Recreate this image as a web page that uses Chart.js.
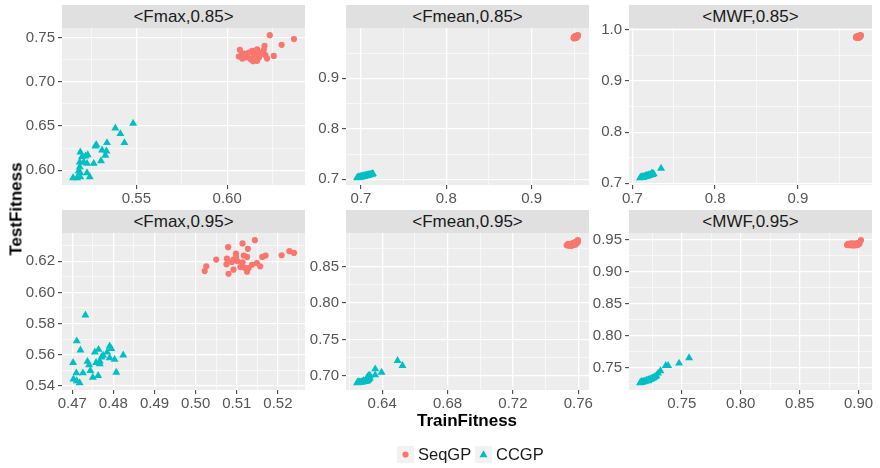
<!DOCTYPE html>
<html>
<head>
<meta charset="utf-8">
<script src="https://cdn.jsdelivr.net/npm/chart.js@4.4.1/dist/chart.umd.min.js"></script>
<style>
  html, body { margin: 0; padding: 0; background: #ffffff; }
  body { width: 880px; height: 468px; position: relative; overflow: hidden;
         font-family: "Liberation Sans", Arial, Helvetica, sans-serif; }
  .strip { position: absolute; background: #E0E0E0; color: #1A1A1A; font-size: 17px;
           text-align: center; height: 23px; line-height: 23px; white-space: nowrap; }
  canvas { position: absolute; }
  .title { position: absolute; font-weight: bold; font-size: 17px; line-height: 17px;
           color: #000000; white-space: nowrap; }
  .legend-key { position: absolute; width: 17px; height: 17px; background: #F2F2F2; }
  .legend-key svg { display: block; }
  .legend-text { position: absolute; font-size: 16.5px; line-height: 17px; color: #1A1A1A; white-space: nowrap; }
</style>
</head>
<body>
<script>
// ---- data: [TrainFitness, TestFitness] per run ----
const seriesNames = ['SeqGP', 'CCGP'];

const seqFmax85 = [
  [0.6235,0.7530],[0.6368,0.7485],[0.6300,0.7420],[0.6257,0.7295],[0.6220,0.7265],
  [0.6206,0.7410],[0.6202,0.7364],[0.6165,0.7370],[0.6162,0.7340],[0.6138,0.7352],
  [0.6110,0.7295],[0.6070,0.7364],[0.6064,0.7288],[0.6083,0.7314],[0.6101,0.7277],
  [0.6129,0.7258],[0.6143,0.7235],[0.6165,0.7239],[0.6175,0.7277],[0.6184,0.7314],
  [0.6193,0.7333],[0.6147,0.7303],[0.6119,0.7333],[0.6092,0.7322],[0.6211,0.7303],
  [0.6083,0.7265]
];
const ccFmax85 = [
  [0.5482,0.6530],[0.5384,0.6477],[0.5412,0.6413],[0.5434,0.6311],[0.5338,0.6311],
  [0.5279,0.6288],[0.5274,0.6273],[0.5311,0.6227],[0.5335,0.6216],[0.5329,0.6167],
  [0.5305,0.6106],[0.5265,0.6076],[0.5232,0.6174],[0.5219,0.6159],[0.5191,0.6205],
  [0.5200,0.6152],[0.5188,0.6091],[0.5210,0.6091],[0.5228,0.6076],[0.5188,0.6038],
  [0.5182,0.5989],[0.5191,0.5970],[0.5228,0.5970],[0.5243,0.5924],[0.5191,0.5924],
  [0.5151,0.5913],[0.5173,0.5913]
];

const seqFmean85 = [
  [0.9512,0.9811],[0.9525,0.9825],[0.9503,0.9802],[0.9538,0.9838],[0.9518,0.9819],
  [0.9496,0.9790],[0.9531,0.9846],[0.9509,0.9808],[0.9543,0.9854],[0.9521,0.9799],
  [0.9515,0.9831],[0.9499,0.9815],[0.9527,0.9810],[0.9506,0.9823],[0.9535,0.9821],
  [0.9492,0.9796],[0.9519,0.9806],[0.9511,0.9837],[0.9529,0.9829],[0.9502,0.9813],
  [0.9523,0.9842],[0.9514,0.9800],[0.9533,0.9816],[0.9497,0.9807],[0.9526,0.9833],
  [0.9508,0.9795],[0.9540,0.9842],[0.9516,0.9824],[0.9504,0.9818],[0.9520,0.9814]
];
const ccFmean85 = [
  [0.6954,0.7030],[0.6960,0.7028],[0.6968,0.7036],[0.6975,0.7033],[0.6981,0.7041],
  [0.6987,0.7037],[0.6993,0.7046],[0.6999,0.7042],[0.7005,0.7051],[0.7010,0.7047],
  [0.7016,0.7056],[0.7021,0.7052],[0.7027,0.7061],[0.7033,0.7057],[0.7039,0.7066],
  [0.7044,0.7062],[0.7050,0.7071],[0.7056,0.7067],[0.7062,0.7076],[0.7068,0.7072],
  [0.7075,0.7082],[0.7082,0.7078],[0.7090,0.7088],[0.7097,0.7084],[0.7106,0.7095],
  [0.7115,0.7091],[0.7124,0.7103],[0.7133,0.7099],[0.7140,0.7110],[0.6972,0.7044]
];

const seqMwf85 = [
  [0.9728,0.9865],[0.9741,0.9872],[0.9715,0.9858],[0.9753,0.9880],[0.9735,0.9851],
  [0.9709,0.9866],[0.9747,0.9861],[0.9722,0.9877],[0.9763,0.9888],[0.9731,0.9869],
  [0.9719,0.9848],[0.9744,0.9890],[0.9703,0.9855],[0.9737,0.9876],[0.9726,0.9862],
  [0.9750,0.9868],[0.9712,0.9873],[0.9758,0.9899],[0.9733,0.9857],[0.9721,0.9866],
  [0.9745,0.9879],[0.9730,0.9845],[0.9716,0.9864],[0.9739,0.9884],[0.9724,0.9870],
  [0.9755,0.9874],[0.9706,0.9860],[0.9742,0.9853],[0.9729,0.9875],[0.9736,0.9863]
];
const ccMwf85 = [
  [0.7093,0.7107],[0.7100,0.7112],[0.7108,0.7110],[0.7114,0.7118],[0.7120,0.7114],
  [0.7126,0.7123],[0.7131,0.7119],[0.7137,0.7128],[0.7143,0.7124],[0.7149,0.7133],
  [0.7155,0.7129],[0.7161,0.7139],[0.7167,0.7134],[0.7173,0.7145],[0.7179,0.7140],
  [0.7186,0.7152],[0.7192,0.7147],[0.7199,0.7160],[0.7206,0.7155],[0.7214,0.7168],
  [0.7222,0.7162],[0.7231,0.7177],[0.7240,0.7171],[0.7250,0.7190],[0.7259,0.7182],
  [0.7112,0.7125],[0.7165,0.7150],[0.7235,0.7200],[0.7347,0.7293],[0.7128,0.7110]
];

const seqFmax95 = [
  [0.5144,0.6336],[0.5114,0.6315],[0.5079,0.6291],[0.5127,0.6280],[0.5228,0.6265],
  [0.5239,0.6254],[0.5209,0.6239],[0.5170,0.6237],[0.5162,0.6228],[0.5098,0.6250],
  [0.5117,0.6237],[0.5125,0.6228],[0.5050,0.6211],[0.5076,0.6217],[0.5092,0.6211],
  [0.5098,0.6228],[0.5102,0.6200],[0.5088,0.6196],[0.5114,0.6194],[0.5075,0.6181],
  [0.5149,0.6189],[0.5137,0.6178],[0.5157,0.6168],[0.5109,0.6163],[0.5119,0.6159],
  [0.5092,0.6146],[0.5026,0.6168],[0.5022,0.6137],[0.5125,0.6133],[0.5080,0.6120],
  [0.5129,0.6157]
];
const ccFmax95 = [
  [0.4732,0.5854],[0.4711,0.5688],[0.4720,0.5629],[0.4702,0.5549],[0.4737,0.5556],
  [0.4741,0.5534],[0.4744,0.5497],[0.4726,0.5482],[0.4710,0.5482],[0.4703,0.5443],
  [0.4711,0.5432],[0.4718,0.5419],[0.4750,0.5454],[0.4763,0.5465],[0.4755,0.5616],
  [0.4764,0.5633],[0.4758,0.5549],[0.4767,0.5558],[0.4771,0.5584],[0.4775,0.5595],
  [0.4785,0.5616],[0.4791,0.5655],[0.4795,0.5638],[0.4791,0.5579],[0.4803,0.5569],
  [0.4807,0.5486],[0.4824,0.5597],[0.4767,0.5541]
];

const seqFmean95 = [
  [0.7529,0.8790],[0.7535,0.8798],[0.7541,0.8786],[0.7546,0.8803],[0.7551,0.8792],
  [0.7555,0.8808],[0.7559,0.8797],[0.7563,0.8812],[0.7567,0.8800],[0.7570,0.8817],
  [0.7573,0.8805],[0.7576,0.8822],[0.7579,0.8809],[0.7582,0.8826],[0.7585,0.8814],
  [0.7587,0.8831],[0.7589,0.8819],[0.7591,0.8838],[0.7593,0.8825],[0.7595,0.8845],
  [0.7596,0.8832],[0.7598,0.8853],[0.7597,0.8861],[0.7560,0.8783],[0.7548,0.8789],
  [0.7572,0.8795],[0.7584,0.8802],[0.7538,0.8810],[0.7566,0.8822],[0.7580,0.8835]
];
const ccFmean95 = [
  [0.6246,0.6906],[0.6251,0.6912],[0.6257,0.6909],[0.6262,0.6915],[0.6266,0.6911],
  [0.6271,0.6918],[0.6275,0.6914],[0.6280,0.6922],[0.6284,0.6918],[0.6288,0.6926],
  [0.6292,0.6921],[0.6296,0.6930],[0.6300,0.6926],[0.6304,0.6935],[0.6308,0.6931],
  [0.6312,0.6941],[0.6316,0.6950],[0.6320,0.6962],[0.6324,0.6975],[0.6318,0.7005],
  [0.6310,0.6990],[0.6255,0.6920],[0.6287,0.6935],[0.6300,0.6945],[0.6494,0.7210],
  [0.6524,0.7142],[0.6357,0.7096],[0.6396,0.7050],[0.6357,0.7014],[0.6325,0.7008]
];

const seqMwf95 = [
  [0.8902,0.9420],[0.8910,0.9428],[0.8917,0.9416],[0.8924,0.9432],[0.8931,0.9419],
  [0.8937,0.9425],[0.8943,0.9413],[0.8949,0.9430],[0.8955,0.9421],[0.8960,0.9436],
  [0.8965,0.9418],[0.8970,0.9427],[0.8975,0.9433],[0.8980,0.9422],[0.8985,0.9438],
  [0.8990,0.9429],[0.8994,0.9441],[0.8998,0.9435],[0.9003,0.9446],[0.9008,0.9440],
  [0.9020,0.9494],[0.8928,0.9440],[0.8946,0.9443],[0.8962,0.9412],[0.8978,0.9445],
  [0.8913,0.9435],[0.8992,0.9417],[0.8940,0.9437],[0.8984,0.9425],[0.9000,0.9452]
];
const ccMwf95 = [
  [0.7146,0.7267],[0.7152,0.7274],[0.7158,0.7270],[0.7164,0.7279],[0.7170,0.7284],
  [0.7176,0.7281],[0.7182,0.7290],[0.7188,0.7295],[0.7194,0.7292],[0.7200,0.7302],
  [0.7206,0.7306],[0.7212,0.7303],[0.7218,0.7313],[0.7224,0.7318],[0.7230,0.7315],
  [0.7236,0.7326],[0.7243,0.7331],[0.7250,0.7338],[0.7257,0.7344],[0.7265,0.7352],
  [0.7274,0.7362],[0.7285,0.7375],[0.7562,0.7656],[0.7477,0.7573],[0.7384,0.7536],
  [0.7364,0.7536],[0.7319,0.7453],[0.7299,0.7417],[0.7160,0.7285],[0.7215,0.7295]
];

// ---- axis tick labels per facet ----
const xTicksFmax85  = ['0.55', '0.60'];
const yTicksFmax85  = ['0.60', '0.65', '0.70', '0.75'];
const xTicksFmean85 = ['0.7', '0.8', '0.9'];
const yTicksFmean85 = ['0.7', '0.8', '0.9'];
const xTicksMwf85   = ['0.7', '0.8', '0.9'];
const yTicksMwf85   = ['0.7', '0.8', '0.9', '1.0'];
const xTicksFmax95  = ['0.47', '0.48', '0.49', '0.50', '0.51', '0.52'];
const yTicksFmax95  = ['0.54', '0.56', '0.58', '0.60', '0.62'];
const xTicksFmean95 = ['0.64', '0.68', '0.72', '0.76'];
const yTicksFmean95 = ['0.70', '0.75', '0.80', '0.85'];
const xTicksMwf95   = ['0.75', '0.80', '0.85', '0.90'];
const yTicksMwf95   = ['0.75', '0.80', '0.85', '0.90', '0.95'];

const facetTitles = ['<Fmax,0.85>', '<Fmean,0.85>', '<MWF,0.85>',
                     '<Fmax,0.95>', '<Fmean,0.95>', '<MWF,0.95>'];

// ---- layout ----
const COLOR_SEQ = '#F8766D';
const COLOR_CC = '#00BFC4';
const FONT = '"Liberation Sans", Arial, Helvetica, sans-serif';
const COLS = [{ left: 62, width: 243 }, { left: 346, width: 243 }, { left: 629, width: 243 }];
const ROWS = [{ strip: 5, top: 28, height: 157 }, { strip: 210, top: 233, height: 157 }];
const Y_AXIS_W = 52, X_AXIS_H = 24, PAD_T = 12, PAD_R = 18;

const facets = [
  { seq: seqFmax85,  cc: ccFmax85,  xt: xTicksFmax85,  yt: yTicksFmax85,  col: 0, row: 0 },
  { seq: seqFmean85, cc: ccFmean85, xt: xTicksFmean85, yt: yTicksFmean85, col: 1, row: 0 },
  { seq: seqMwf85,   cc: ccMwf85,   xt: xTicksMwf85,   yt: yTicksMwf85,   col: 2, row: 0 },
  { seq: seqFmax95,  cc: ccFmax95,  xt: xTicksFmax95,  yt: yTicksFmax95,  col: 0, row: 1 },
  { seq: seqFmean95, cc: ccFmean95, xt: xTicksFmean95, yt: yTicksFmean95, col: 1, row: 1 },
  { seq: seqMwf95,   cc: ccMwf95,   xt: xTicksMwf95,   yt: yTicksMwf95,   col: 2, row: 1 }
];

// free scales: data range widened by 5% on each side
function expandedRange(values) {
  const lo = Math.min(...values), hi = Math.max(...values);
  const pad = (hi - lo) * 0.05;
  return [lo - pad, hi + pad];
}

// major ticks carry labels, minor grid lines sit halfway between them
function buildGrid(labels, min, max) {
  const majors = labels.map(Number);
  const step = majors[1] - majors[0];
  const out = [];
  const eps = 1e-9;
  const minors = [majors[0] - step / 2];
  for (let i = 0; i < majors.length - 1; i++) minors.push((majors[i] + majors[i + 1]) / 2);
  minors.push(majors[majors.length - 1] + step / 2);
  minors.forEach(v => { if (v >= min - eps && v <= max + eps) out.push({ value: v, lab: '', isMajor: false }); });
  majors.forEach((v, i) => { if (v >= min - eps && v <= max + eps) out.push({ value: v, lab: labels[i], isMajor: true }); });
  out.sort((a, b) => a.value - b.value);
  return out;
}

const panelBackground = {
  id: 'panelBackground',
  beforeDraw(chart) {
    const { ctx, chartArea: a } = chart;
    ctx.save();
    ctx.fillStyle = '#EDEDED';
    ctx.fillRect(a.left, a.top, a.right - a.left, a.bottom - a.top);
    ctx.restore();
  }
};

function axisOptions(labels, range, horizontal) {
  return {
    type: 'linear',
    min: range[0],
    max: range[1],
    afterBuildTicks: scale => { scale.ticks = buildGrid(labels, range[0], range[1]); },
    afterFit: scale => {
      if (horizontal) { scale.height = X_AXIS_H; scale.paddingLeft = 0; scale.paddingRight = 0; }
      else { scale.width = Y_AXIS_W; scale.paddingTop = 0; scale.paddingBottom = 0; }
    },
    ticks: {
      autoSkip: false,
      maxRotation: 0,
      minRotation: 0,
      padding: horizontal ? 1 : 3,
      color: '#555555',
      font: { family: FONT, size: 15 },
      callback: (v, i, ts) => ts[i].lab
    },
    grid: {
      color: '#FFFFFF',
      lineWidth: c => (c.tick && c.tick.isMajor ? 1.3 : 0.6),
      tickColor: c => (c.tick && c.tick.isMajor ? '#333333' : 'rgba(0,0,0,0)'),
      tickWidth: 1,
      tickLength: 4,
      drawTicks: true
    },
    border: { display: false }
  };
}

facets.forEach((f, k) => {
  const col = COLS[f.col], row = ROWS[f.row];

  const strip = document.createElement('div');
  strip.className = 'strip';
  strip.style.left = col.left + 'px';
  strip.style.top = row.strip + 'px';
  strip.style.width = col.width + 'px';
  strip.textContent = facetTitles[k];
  document.body.appendChild(strip);

  const canvas = document.createElement('canvas');
  const w = col.width + Y_AXIS_W + PAD_R, h = row.height + PAD_T + X_AXIS_H;
  canvas.width = w; canvas.height = h;
  canvas.style.width = w + 'px'; canvas.style.height = h + 'px';
  canvas.style.left = (col.left - Y_AXIS_W) + 'px';
  canvas.style.top = (row.top - PAD_T) + 'px';
  document.body.appendChild(canvas);

  const all = f.seq.concat(f.cc);
  const xr = expandedRange(all.map(p => p[0]));
  const yr = expandedRange(all.map(p => p[1]));

  new Chart(canvas, {
    type: 'scatter',
    data: {
      datasets: [
        { label: seriesNames[0], data: f.seq.map(p => ({ x: p[0], y: p[1] })),
          pointStyle: 'circle', pointRadius: 3.1, pointBackgroundColor: COLOR_SEQ,
          pointBorderWidth: 0, pointBorderColor: COLOR_SEQ },
        { label: seriesNames[1], data: f.cc.map(p => ({ x: p[0], y: p[1] })),
          pointStyle: 'triangle', pointRadius: 4.6, pointBackgroundColor: COLOR_CC,
          pointBorderWidth: 0, pointBorderColor: COLOR_CC }
      ]
    },
    options: {
      responsive: false,
      animation: false,
      devicePixelRatio: 1,
      layout: { padding: { left: 0, top: PAD_T, right: PAD_R, bottom: 0 } },
      plugins: { legend: { display: false }, tooltip: { enabled: false } },
      events: [],
      scales: {
        x: axisOptions(f.xt, xr, true),
        y: axisOptions(f.yt, yr, false)
      }
    },
    plugins: [panelBackground]
  });
});

// axis titles, centred on the panel block
const xTitle = document.createElement('div');
xTitle.className = 'title';
xTitle.textContent = 'TrainFitness';
xTitle.style.left = '467px'; xTitle.style.top = '420px';
xTitle.style.transform = 'translate(-50%, -50%)';
document.body.appendChild(xTitle);

const yTitle = document.createElement('div');
yTitle.className = 'title';
yTitle.textContent = 'TestFitness';
yTitle.style.left = '16px'; yTitle.style.top = '209px';
yTitle.style.transform = 'translate(-50%, -50%) rotate(-90deg)';
document.body.appendChild(yTitle);

// legend
const SVGNS = 'http://www.w3.org/2000/svg';
function legendItem(left, name, shape, color, textLeft) {
  const key = document.createElement('div');
  key.className = 'legend-key';
  key.style.left = left + 'px'; key.style.top = '446px';
  const svg = document.createElementNS(SVGNS, 'svg');
  svg.setAttribute('width', '17'); svg.setAttribute('height', '17');
  let mark;
  if (shape === 'circle') {
    mark = document.createElementNS(SVGNS, 'circle');
    mark.setAttribute('cx', '8.5'); mark.setAttribute('cy', '8.5'); mark.setAttribute('r', '3.1');
  } else {
    mark = document.createElementNS(SVGNS, 'polygon');
    mark.setAttribute('points', '8.5,4.3 12.5,11.2 4.5,11.2');
  }
  mark.setAttribute('fill', color);
  svg.appendChild(mark);
  key.appendChild(svg);
  document.body.appendChild(key);

  const txt = document.createElement('div');
  txt.className = 'legend-text';
  txt.textContent = name;
  txt.style.left = textLeft + 'px'; txt.style.top = '446px';
  document.body.appendChild(txt);
}
legendItem(397, seriesNames[0], 'circle', COLOR_SEQ, 418);
legendItem(475, seriesNames[1], 'triangle', COLOR_CC, 496);
</script>
</body>
</html>
